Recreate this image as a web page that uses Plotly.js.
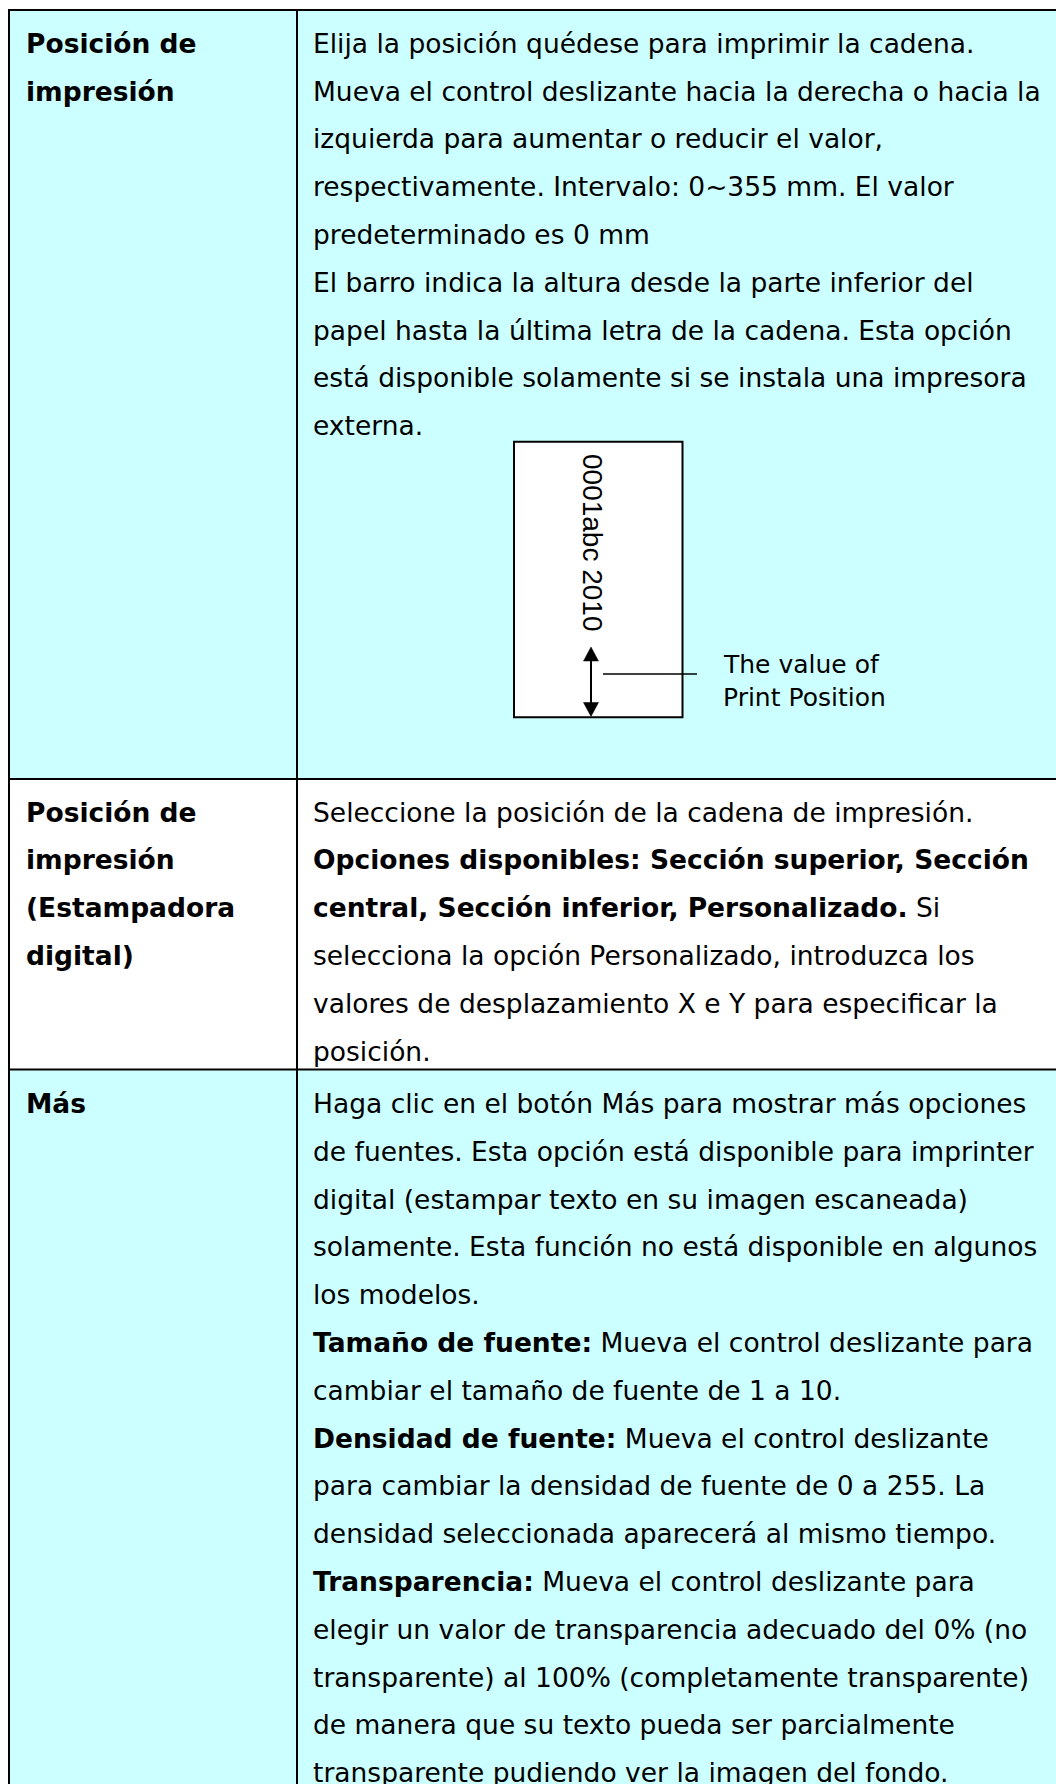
<!DOCTYPE html>
<html>
<head>
<meta charset="utf-8">
<script src="https://cdn.plot.ly/plotly-3.0.1.min.js"></script>
<style>
html,body{margin:0;padding:0;background:#fff;overflow:hidden;}
#chart{width:1056px;height:1784px;}
</style>
</head>
<body>
<div id="chart"></div>
<script>
// ---- content (text only) ----
const labelsRow1 = ['Posición de', 'impresión'];
const linesRow1 = [
  'Elija la posición quédese para imprimir la cadena.',
  'Mueva el control deslizante hacia la derecha o hacia la',
  'izquierda para aumentar o reducir el valor,',
  'respectivamente. Intervalo: 0~355 mm. El valor',
  'predeterminado es 0 mm',
  'El barro indica la altura desde la parte inferior del',
  'papel hasta la última letra de la cadena. Esta opción',
  'está disponible solamente si se instala una impresora',
  'externa.'
];
const labelsRow2 = ['Posición de', 'impresión', '(Estampadora', 'digital)'];
const linesRow2 = [
  'Seleccione la posición de la cadena de impresión.',
  '<b>Opciones disponibles: Sección superior, Sección</b>',
  '<b>central, Sección inferior, Personalizado.</b> Si',
  'selecciona la opción Personalizado, introduzca los',
  'valores de desplazamiento X e Y para especificar la',
  'posición.'
];
const labelsRow3 = ['Más'];
const linesRow3 = [
  'Haga clic en el botón Más para mostrar más opciones',
  'de fuentes. Esta opción está disponible para imprinter',
  'digital (estampar texto en su imagen escaneada)',
  'solamente. Esta función no está disponible en algunos',
  'los modelos.',
  '<b>Tamaño de fuente:</b> Mueva el control deslizante para',
  'cambiar el tamaño de fuente de 1 a 10.',
  '<b>Densidad de fuente:</b> Mueva el control deslizante',
  'para cambiar la densidad de fuente de 0 a 255. La',
  'densidad seleccionada aparecerá al mismo tiempo.',
  '<b>Transparencia:</b> Mueva el control deslizante para',
  'elegir un valor de transparencia adecuado del 0% (no',
  'transparente) al 100% (completamente transparente)',
  'de manera que su texto pueda ser parcialmente',
  'transparente pudiendo ver la imagen del fondo.'
];
const diagramCode = '0001abc 2010';
const diagramNote = ['The value of', 'Print Position'];

// ---- layout geometry ----
const W = 1056, H = 1784;
const CYAN = '#CCFFFF';
const FONT = 'DejaVu Sans, Verdana, sans-serif';
const FS = 26.5;
const LINE = 47.8;
const BASE_OFF = 9;           // baseline -> text-box centre
const tableLeft = 9, tableTop = 10, colDiv = 297;
const rowLines = [779, 1069.5];
const rows = [
  {labels: labelsRow1, lines: linesRow1, top: tableTop, bottom: rowLines[0], fill: CYAN, base: 52.3},
  {labels: labelsRow2, lines: linesRow2, top: rowLines[0], bottom: rowLines[1], fill: '#FFFFFF', base: 821},
  {labels: labelsRow3, lines: linesRow3, top: rowLines[1], bottom: H + 10, fill: CYAN, base: 1112.5}
];
const leftX = 24, rightX = 311;

const shapes = [];
const annotations = [];

rows.forEach(r => {
  shapes.push({type: 'rect', xref: 'x', yref: 'y', x0: tableLeft, x1: W + 10, y0: r.top, y1: r.bottom,
    fillcolor: r.fill, line: {width: 0}, layer: 'below'});
  r.labels.forEach((t, i) => {
    annotations.push({xref: 'x', yref: 'y', x: leftX, y: r.base + i * LINE - BASE_OFF,
      xanchor: 'left', yanchor: 'middle', showarrow: false, text: '<b>' + t + '</b>',
      font: {family: FONT, size: FS, color: '#000'}});
  });
  r.lines.forEach((t, i) => {
    annotations.push({xref: 'x', yref: 'y', x: rightX, y: r.base + i * LINE - BASE_OFF,
      xanchor: 'left', yanchor: 'middle', showarrow: false, text: t,
      font: {family: FONT, size: FS, color: '#000'}});
  });
});

// table rules
const black = {color: '#000', width: 2};
shapes.push({type: 'line', xref: 'x', yref: 'y', x0: 8, x1: W + 5, y0: tableTop, y1: tableTop, line: black});
shapes.push({type: 'line', xref: 'x', yref: 'y', x0: tableLeft, x1: tableLeft, y0: 9, y1: H + 5, line: black});
shapes.push({type: 'line', xref: 'x', yref: 'y', x0: colDiv, x1: colDiv, y0: tableTop, y1: H + 5, line: black});
rowLines.forEach(y => shapes.push({type: 'line', xref: 'x', yref: 'y', x0: 8, x1: W + 5, y0: y, y1: y, line: black}));

// diagram
const box = {x0: 514, x1: 682.5, y0: 441.7, y1: 717.3};
shapes.push({type: 'rect', xref: 'x', yref: 'y', x0: box.x0, x1: box.x1, y0: box.y0, y1: box.y1,
  fillcolor: '#FFFFFF', line: {color: '#000', width: 2}});
const ax = 591, aTop = 647, aBot = 716.5, headH = 14, headW = 7.5;
shapes.push({type: 'line', xref: 'x', yref: 'y', x0: ax, x1: ax, y0: aTop + headH - 2, y1: aBot - headH + 2,
  line: {color: '#000', width: 2}});
shapes.push({type: 'path', xref: 'x', yref: 'y',
  path: `M ${ax} ${aTop} L ${ax - headW} ${aTop + headH} L ${ax + headW} ${aTop + headH} Z`,
  fillcolor: '#000', line: {color: '#000', width: 0.5}});
shapes.push({type: 'path', xref: 'x', yref: 'y',
  path: `M ${ax} ${aBot} L ${ax - headW} ${aBot - headH} L ${ax + headW} ${aBot - headH} Z`,
  fillcolor: '#000', line: {color: '#000', width: 0.5}});
shapes.push({type: 'line', xref: 'x', yref: 'y', x0: 603, x1: 697, y0: 674, y1: 674,
  line: {color: '#000', width: 1.5}});

annotations.push({xref: 'x', yref: 'y', x: 593, y: 543, xanchor: 'center', yanchor: 'middle',
  showarrow: false, textangle: 90, text: diagramCode,
  font: {family: 'Liberation Sans, Arial, sans-serif', size: 28, color: '#000'}});
const noteBase = [673.3, 705.7];
diagramNote.forEach((t, i) => {
  annotations.push({xref: 'x', yref: 'y', x: 721, y: noteBase[i] - 8.5, xanchor: 'left', yanchor: 'middle',
    showarrow: false, text: t, font: {family: FONT, size: 25, color: '#000'}});
});

const layout = {
  width: W, height: H,
  margin: {l: 0, r: 0, t: 0, b: 0, pad: 0},
  paper_bgcolor: '#FFFFFF', plot_bgcolor: '#FFFFFF',
  showlegend: false,
  xaxis: {range: [0, W], visible: false, fixedrange: true},
  yaxis: {range: [H, 0], visible: false, fixedrange: true},
  shapes: shapes,
  annotations: annotations
};

Plotly.newPlot('chart', [{x: [], y: [], type: 'scatter', mode: 'markers', hoverinfo: 'skip'}], layout,
  {staticPlot: true, displayModeBar: false});
</script>
</body>
</html>
